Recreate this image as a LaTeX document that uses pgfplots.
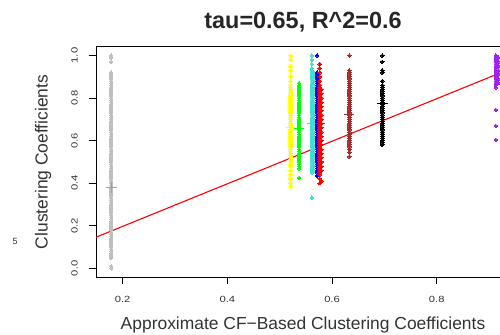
\documentclass[border=0pt]{standalone}
\usepackage{fontspec}
\setmainfont{Liberation Sans}
\usepackage{pgfplots}
\pgfplotsset{compat=1.18}
\definecolor{rgray}{RGB}{190,190,190}
\definecolor{rgraydk}{RGB}{160,160,160}
\definecolor{rturq}{RGB}{64,224,208}
\definecolor{rbrown}{RGB}{165,42,42}
\definecolor{rpurple}{RGB}{160,32,240}
\definecolor{rgreen}{RGB}{0,255,0}
\definecolor{ryellow}{RGB}{255,255,0}
\pgfplotsset{pts/.style={only marks, mark=*, mark size=1.8bp, draw=#1, fill=#1, mark options={draw=#1, fill=#1, line width=0pt}},
  mn/.style={only marks, mark=+, mark size=5bp, mark options={draw=#1, line width=1bp}}}
\begin{document}
\begin{tikzpicture}
\begin{axis}[
  at={(96bp,58bp)}, anchor=south west,
  scale only axis, width=414bp, height=230bp,
  xmin=0.149, xmax=0.94, ymin=-0.041, ymax=1.04,
  xtick={0.2,0.4,0.6,0.8}, xticklabels={0.2,0.4,0.6,0.8},
  ytick={0,0.2,0.4,0.6,0.8,1.0}, yticklabels={0.0,0.2,0.4,0.6,0.8,1.0},
  tick align=outside, xtick pos=bottom, ytick pos=left,
  major tick length=7bp,
  tick style={black, line width=0.8bp},
  axis line style={line width=1bp},
  clip=true,
  xticklabel style={font=\fontsize{9}{10}\selectfont, text=black!80, xscale=1.25, anchor=center, yshift=-15bp},
  yticklabel style={font=\fontsize{9}{10}\selectfont, text=black!80, rotate=90, xscale=1.25, anchor=center, yshift=14.5bp},
  every axis title shift=0pt,
  title={tau=0.65, R\textasciicircum 2=0.6},
  title style={font=\bfseries\fontsize{23.5}{26}\selectfont, text=black!85, at={(axis description cs:0.5,1.1074)}, anchor=center},
  xlabel={Approximate CF\textminus Based Clustering Coefficients},
  xlabel style={font=\fontsize{17.5}{19}\selectfont, text=black!80, at={(axis description cs:0.5,-0.21)}, anchor=center},
  ylabel={Clustering Coefficients},
  ylabel style={font=\fontsize{17.5}{19}\selectfont, text=black!80, at={(axis description cs:-0.128,0.5)}, anchor=center},
]
% gray group
\addplot[pts=rgray] coordinates {
(0.178,0.00)(0.178,0.01)(0.178,0.05)(0.178,0.06)(0.178,0.07)
(0.178,0.08)(0.178,0.09)(0.178,0.10)(0.178,0.11)(0.178,0.12)(0.178,0.13)(0.178,0.14)(0.178,0.15)(0.178,0.16)(0.178,0.17)
(0.178,0.18)(0.178,0.19)(0.178,0.20)(0.178,0.21)(0.178,0.22)(0.178,0.23)(0.178,0.24)(0.178,0.25)(0.178,0.26)(0.178,0.27)
(0.178,0.28)(0.178,0.29)(0.178,0.30)(0.178,0.31)(0.178,0.32)(0.178,0.33)(0.178,0.34)(0.178,0.35)(0.178,0.36)(0.178,0.37)
(0.178,0.38)(0.178,0.39)(0.178,0.40)(0.178,0.41)(0.178,0.42)(0.178,0.43)(0.178,0.44)(0.178,0.45)(0.178,0.46)(0.178,0.47)
(0.178,0.48)(0.178,0.49)(0.178,0.50)(0.178,0.51)(0.178,0.52)(0.178,0.53)(0.178,0.54)(0.178,0.55)(0.178,0.56)(0.178,0.57)
(0.178,0.58)(0.178,0.59)(0.178,0.60)(0.178,0.61)(0.178,0.62)(0.178,0.63)(0.178,0.64)(0.178,0.65)(0.178,0.66)(0.178,0.67)
(0.178,0.68)(0.178,0.69)(0.178,0.70)(0.178,0.71)(0.178,0.72)(0.178,0.73)(0.178,0.74)(0.178,0.75)(0.178,0.76)(0.178,0.77)
(0.178,0.78)(0.178,0.79)(0.178,0.80)(0.178,0.81)(0.178,0.82)(0.178,0.83)(0.178,0.84)(0.178,0.85)(0.178,0.86)(0.178,0.87)
(0.178,0.88)(0.178,0.89)(0.178,0.90)(0.178,0.91)(0.178,0.92)(0.178,0.97)(0.178,0.99)(0.178,1.00)
};
\addplot[mn=rgraydk, mark size=5.5bp] coordinates {(0.178,0.379)};
% regression line
\addplot[red, line width=1.1bp] coordinates {(0.149,0.146) (0.94,0.937)};
% yellow
\addplot[pts=ryellow] coordinates {
(0.521,1.00)(0.521,0.98)(0.521,0.95)(0.521,0.93)(0.521,0.90)(0.521,0.88)(0.521,0.86)
(0.521,0.85)(0.521,0.84)(0.521,0.83)(0.521,0.82)(0.521,0.81)(0.521,0.80)(0.521,0.79)(0.521,0.78)(0.521,0.77)(0.521,0.76)
(0.521,0.75)(0.521,0.74)(0.521,0.73)(0.521,0.72)(0.521,0.71)(0.521,0.70)(0.521,0.69)(0.521,0.68)(0.521,0.67)(0.521,0.66)
(0.521,0.65)(0.521,0.64)(0.521,0.63)(0.521,0.62)(0.521,0.61)(0.521,0.60)(0.521,0.59)(0.521,0.58)(0.521,0.57)(0.521,0.56)
(0.521,0.55)(0.521,0.54)(0.521,0.53)(0.521,0.52)(0.521,0.51)(0.521,0.50)(0.521,0.49)(0.521,0.48)
(0.521,0.46)(0.521,0.44)(0.521,0.42)(0.521,0.40)(0.521,0.385)
};
\addplot[mn=ryellow, mark size=4.5bp] coordinates {(0.521,0.661)};
% green
\addplot[pts=rgreen] coordinates {
(0.537,0.87)(0.537,0.86)(0.537,0.85)(0.537,0.84)(0.537,0.83)(0.537,0.82)(0.537,0.81)(0.537,0.80)(0.537,0.79)(0.537,0.78)
(0.537,0.77)(0.537,0.76)(0.537,0.75)(0.537,0.74)(0.537,0.73)(0.537,0.72)(0.537,0.71)(0.537,0.70)(0.537,0.69)(0.537,0.68)
(0.537,0.67)(0.537,0.66)(0.537,0.65)(0.537,0.64)(0.537,0.63)(0.537,0.62)(0.537,0.61)(0.537,0.60)(0.537,0.59)(0.537,0.58)
(0.537,0.57)(0.537,0.56)(0.537,0.55)(0.537,0.54)(0.537,0.53)(0.537,0.52)(0.537,0.51)(0.537,0.50)(0.537,0.49)(0.537,0.48)
(0.537,0.47)(0.537,0.425)
};
\addplot[mn=rgreen] coordinates {(0.537,0.655)};
% turquoise
\addplot[pts=rturq] coordinates {
(0.5615,1.00)(0.5615,0.98)(0.5615,0.96)(0.5615,0.94)
(0.5615,0.93)(0.5615,0.92)(0.5615,0.91)(0.5615,0.90)(0.5615,0.89)(0.5615,0.88)(0.5615,0.87)(0.5615,0.86)(0.5615,0.85)(0.5615,0.84)
(0.5615,0.83)(0.5615,0.82)(0.5615,0.81)(0.5615,0.80)(0.5615,0.79)(0.5615,0.78)(0.5615,0.77)(0.5615,0.76)(0.5615,0.75)(0.5615,0.74)
(0.5615,0.73)(0.5615,0.72)(0.5615,0.71)(0.5615,0.70)(0.5615,0.69)(0.5615,0.68)(0.5615,0.67)(0.5615,0.66)(0.5615,0.65)(0.5615,0.64)
(0.5615,0.63)(0.5615,0.62)(0.5615,0.61)(0.5615,0.60)(0.5615,0.59)(0.5615,0.58)(0.5615,0.57)(0.5615,0.56)(0.5615,0.55)(0.5615,0.54)
(0.5615,0.53)(0.5615,0.52)(0.5615,0.51)(0.5615,0.50)(0.5615,0.49)(0.5615,0.48)(0.5615,0.47)(0.5615,0.46)(0.5615,0.45)(0.5615,0.332)
(0.5655,0.92)(0.5655,0.90)(0.5655,0.88)(0.5655,0.86)(0.5655,0.84)(0.5655,0.82)(0.5655,0.80)(0.5655,0.78)(0.5655,0.76)(0.5655,0.74)
(0.5655,0.72)(0.5655,0.70)(0.5655,0.68)(0.5655,0.66)(0.5655,0.64)(0.5655,0.62)(0.5655,0.60)(0.5655,0.58)(0.5655,0.56)(0.5655,0.54)
(0.5655,0.52)(0.5655,0.50)(0.5655,0.48)(0.5655,0.46)
};
\addplot[mn=rturq] coordinates {(0.5615,0.682)};
% blue
\addplot[pts=blue] coordinates {
(0.5715,1.00)
(0.5715,0.92)(0.5715,0.91)(0.5715,0.90)(0.5715,0.89)(0.5715,0.88)(0.5715,0.87)(0.5715,0.86)(0.5715,0.85)(0.5715,0.84)(0.5715,0.83)
(0.5715,0.82)(0.5715,0.81)(0.5715,0.80)(0.5715,0.79)(0.5715,0.78)(0.5715,0.77)(0.5715,0.76)(0.5715,0.75)(0.5715,0.74)(0.5715,0.73)
(0.5715,0.72)(0.5715,0.71)(0.5715,0.70)(0.5715,0.69)(0.5715,0.68)(0.5715,0.67)(0.5715,0.66)(0.5715,0.65)(0.5715,0.64)(0.5715,0.63)
(0.5715,0.62)(0.5715,0.61)(0.5715,0.60)(0.5715,0.59)(0.5715,0.58)(0.5715,0.57)(0.5715,0.56)(0.5715,0.55)(0.5715,0.54)(0.5715,0.53)
(0.5715,0.52)(0.5715,0.51)(0.5715,0.50)(0.5715,0.49)(0.5715,0.48)(0.5715,0.47)(0.5715,0.46)(0.5715,0.45)(0.5715,0.435)
};
% red
\addplot[pts=red] coordinates {
(0.5765,0.96)(0.5765,0.94)(0.5765,0.92)(0.5765,0.90)(0.5765,0.88)(0.5765,0.86)
(0.5765,0.85)(0.5765,0.84)(0.5765,0.83)(0.5765,0.82)(0.5765,0.81)(0.5765,0.80)(0.5765,0.79)(0.5765,0.78)(0.5765,0.77)(0.5765,0.76)
(0.5765,0.75)(0.5765,0.74)(0.5765,0.73)(0.5765,0.72)(0.5765,0.71)(0.5765,0.70)(0.5765,0.69)(0.5765,0.68)(0.5765,0.67)(0.5765,0.66)
(0.5765,0.65)(0.5765,0.64)(0.5765,0.63)(0.5765,0.62)(0.5765,0.61)(0.5765,0.60)(0.5765,0.59)(0.5765,0.58)(0.5765,0.57)(0.5765,0.56)
(0.5765,0.55)(0.5765,0.54)(0.5765,0.53)(0.5765,0.52)(0.5765,0.51)(0.5765,0.50)(0.5765,0.49)(0.5765,0.48)(0.5765,0.47)(0.5765,0.46)
(0.5765,0.45)(0.5765,0.44)(0.5765,0.42)(0.5765,0.40)
(0.5795,0.84)(0.5795,0.82)(0.5795,0.80)(0.5795,0.78)(0.5795,0.76)(0.5795,0.74)(0.5795,0.72)(0.5795,0.70)(0.5795,0.68)(0.5795,0.66)
(0.5795,0.64)(0.5795,0.62)(0.5795,0.60)(0.5795,0.58)(0.5795,0.56)(0.5795,0.54)(0.5795,0.52)(0.5795,0.50)(0.5795,0.48)(0.5795,0.46)
(0.5795,0.41)
};
\addplot[mn=red] coordinates {(0.5765,0.682)};
% brown
\addplot[pts=rbrown] coordinates {
(0.633,1.00)
(0.633,0.93)(0.633,0.92)(0.633,0.91)(0.633,0.90)(0.633,0.89)(0.633,0.88)(0.633,0.87)(0.633,0.86)(0.633,0.85)(0.633,0.84)
(0.633,0.83)(0.633,0.82)(0.633,0.81)(0.633,0.80)(0.633,0.79)(0.633,0.78)(0.633,0.77)(0.633,0.76)(0.633,0.75)(0.633,0.74)
(0.633,0.73)(0.633,0.72)(0.633,0.71)(0.633,0.70)(0.633,0.69)(0.633,0.68)(0.633,0.67)(0.633,0.66)(0.633,0.65)(0.633,0.64)
(0.633,0.63)(0.633,0.62)(0.633,0.61)(0.633,0.60)(0.633,0.59)(0.633,0.58)(0.633,0.57)(0.633,0.56)(0.633,0.545)(0.633,0.525)
};
\addplot[mn=rbrown] coordinates {(0.633,0.721)};
% black
\addplot[pts=black] coordinates {
(0.696,1.00)(0.696,0.97)(0.696,0.93)(0.696,0.92)(0.696,0.88)
(0.696,0.86)(0.696,0.85)(0.696,0.84)(0.696,0.83)(0.696,0.82)(0.696,0.81)(0.696,0.80)(0.696,0.79)(0.696,0.78)(0.696,0.77)
(0.696,0.76)(0.696,0.75)(0.696,0.74)(0.696,0.73)(0.696,0.72)(0.696,0.71)(0.696,0.70)(0.696,0.69)(0.696,0.68)(0.696,0.67)
(0.696,0.66)(0.696,0.65)(0.696,0.64)(0.696,0.63)(0.696,0.62)(0.696,0.61)(0.696,0.60)(0.696,0.59)(0.696,0.58)
};
\addplot[mn=black, mark size=5.5bp] coordinates {(0.696,0.776)};
% purple
\addplot[pts=rpurple] coordinates {
(0.913,1.00)(0.913,0.99)(0.913,0.98)(0.913,0.97)(0.913,0.96)(0.913,0.95)(0.913,0.94)(0.913,0.93)(0.913,0.92)(0.913,0.91)
(0.913,0.90)(0.913,0.89)(0.913,0.88)(0.913,0.87)(0.913,0.86)(0.913,0.85)(0.913,0.744)(0.913,0.669)(0.913,0.603)
(0.918,0.99)(0.918,0.97)(0.918,0.95)(0.918,0.93)(0.918,0.91)(0.918,0.89)(0.918,0.87)
};
\end{axis}
\node[font=\fontsize{9}{10}\selectfont, text=black!80] at (15bp,94bp) {5};
\pgfresetboundingbox
\path[use as bounding box] (0,0) rectangle (500bp,335bp);
\end{tikzpicture}
\end{document}
